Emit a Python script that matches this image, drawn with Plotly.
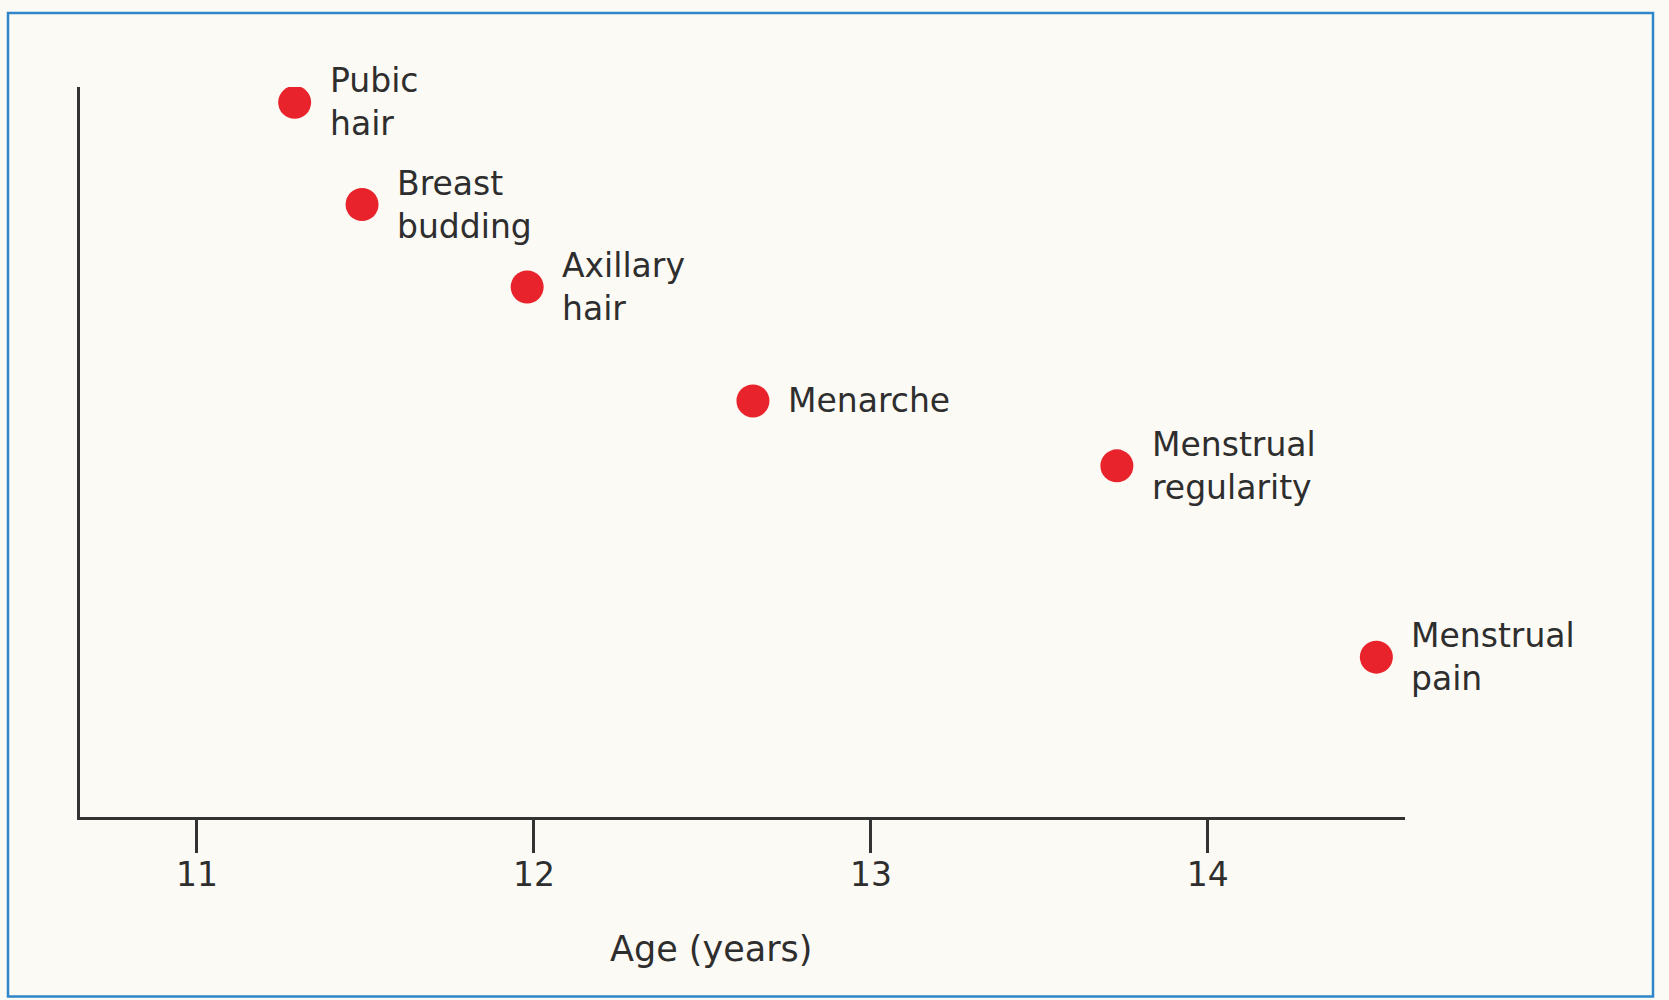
import plotly.graph_objects as go

# Data
events = ["Pubic hair", "Breast budding", "Axillary hair", "Menarche",
          "Menstrual regularity", "Menstrual pain"]
label_lines = [["Pubic", "hair"], ["Breast", "budding"], ["Axillary", "hair"],
               ["Menarche"], ["Menstrual", "regularity"], ["Menstrual", "pain"]]
age_years = [11.29, 11.49, 11.98, 12.65, 13.73, 14.50]
level = [0.979, 0.839, 0.726, 0.570, 0.481, 0.219]
tick_values = [11, 12, 13, 14]
tick_labels = ["11", "12", "13", "14"]
x_title = "Age (years)"

W, H = 1669, 1000
ML, MR, MT, MB = 80, 264, 87, 182.5
FONT = "DejaVu Sans"
TXT = "#2e2e2e"
BG = "#fcfaf5"

fig = go.Figure()
fig.add_trace(go.Scatter(
    x=age_years, y=level, mode="markers", text=events, hoverinfo="text",
    marker=dict(size=33, color="#e8232b", line=dict(width=0)),
    showlegend=False,
))

annotations = []
for xv, yv, lines in zip(age_years, level, label_lines):
    annotations.append(dict(
        x=xv, y=yv, xref="x", yref="y", text="<br>".join(lines), showarrow=False,
        xanchor="left", yanchor="middle", align="left", xshift=33,
        font=dict(family=FONT, size=33, color=TXT),
    ))

plot_w = W - ML - MR
plot_h = H - MT - MB
annotations.append(dict(
    x=(711 - ML) / plot_w, y=(H - MB - 950) / plot_h, xref="paper", yref="paper",
    text=x_title, showarrow=False, xanchor="center", yanchor="middle",
    font=dict(family=FONT, size=35, color=TXT),
))

fig.update_layout(
    width=W, height=H,
    margin=dict(l=ML, r=MR, t=MT, b=MB, pad=0),
    paper_bgcolor=BG, plot_bgcolor=BG,
    font=dict(family=FONT, color=TXT),
    annotations=annotations,
    xaxis=dict(
        range=[10.653, 14.585], showgrid=False, zeroline=False,
        showline=True, linecolor="#333333", linewidth=2.5,
        tickmode="array", tickvals=tick_values, ticktext=tick_labels,
        ticks="outside", ticklen=33, tickwidth=2.5, tickcolor="#333333",
        ticklabelstandoff=-6,
        tickfont=dict(family=FONT, size=33, color=TXT),
    ),
    yaxis=dict(
        range=[0, 1], showgrid=False, zeroline=False,
        showline=True, linecolor="#333333", linewidth=2.5,
        showticklabels=False, ticks="",
    ),
    shapes=[dict(
        type="rect", xref="paper", yref="paper",
        x0=(8 - ML) / plot_w, x1=(1653 - ML) / plot_w,
        y0=(H - MB - 997) / plot_h, y1=(H - MB - 13) / plot_h,
        line=dict(color="#2f86c9", width=2.5), fillcolor="rgba(0,0,0,0)",
        layer="below",
    )],
)

fig.write_html(
    "out.html",
    config={"displayModeBar": False},
    post_script="document.body.style.margin='0';document.body.style.background='#fcfaf5';",
)
